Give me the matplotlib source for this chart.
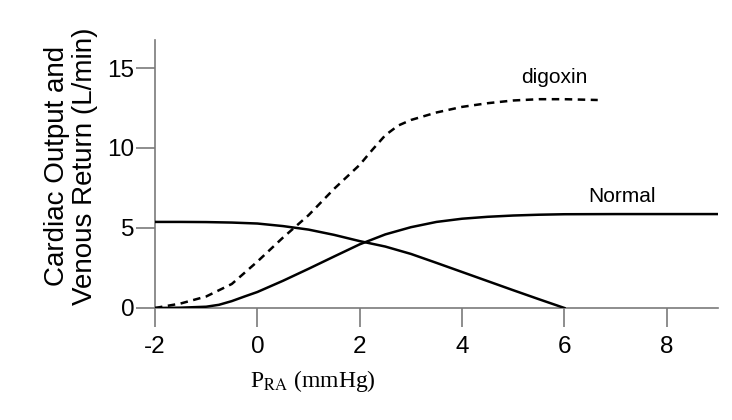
import matplotlib
matplotlib.use('Agg')
import matplotlib.pyplot as plt

plt.rcParams['font.family'] = ['Liberation Sans', 'DejaVu Sans']
plt.rcParams['mathtext.fontset'] = 'stix'
plt.rcParams['axes.unicode_minus'] = False

# normal cardiac function curve
co_x = [-2, -1.5, -1, -0.75, -0.5, -0.25, 0, 0.5, 1, 1.5, 2, 2.5, 3, 3.5, 4, 4.5, 5, 5.5, 6, 7, 8, 9]
co_y = [0.0, 0.02, 0.08, 0.2, 0.43, 0.72, 1.0, 1.7, 2.45, 3.22, 3.98, 4.6, 5.05, 5.38, 5.58, 5.7, 5.78, 5.83, 5.86, 5.87, 5.87, 5.87]

# venous return curve
vr_x = [-2, -1.5, -1, -0.5, 0, 0.5, 1, 1.5, 2, 2.5, 3, 3.5, 4, 4.5, 5, 5.5, 6]
vr_y = [5.38, 5.38, 5.37, 5.34, 5.28, 5.12, 4.9, 4.57, 4.18, 3.84, 3.38, 2.82, 2.25, 1.68, 1.11, 0.55, 0.0]

# cardiac function with digoxin
dig_x = [-2, -1.5, -1, -0.5, 0, 0.5, 1, 1.5, 2, 2.25, 2.5, 2.75, 3, 3.5, 4, 4.5, 5, 5.5, 6, 6.65]
dig_y = [0.0, 0.28, 0.72, 1.5, 2.9, 4.4, 5.8, 7.45, 8.95, 9.9, 10.8, 11.4, 11.75, 12.22, 12.57, 12.8, 12.97, 13.05, 13.05, 13.0]

fig = plt.figure(figsize=(7.32, 4.2), dpi=100)
ax = fig.add_axes([155 / 732, 112 / 420, 563 / 732, 268 / 420])

ax.plot(co_x, co_y, color='black', lw=1.8)
ax.plot(vr_x, vr_y, color='black', lw=1.8)
ax.plot(dig_x, dig_y, color='black', lw=1.8, dashes=(3, 2.2))

ax.text(5.8, 14.4, 'digoxin', fontsize=15, ha='center', va='center')
ax.text(7.12, 6.94, 'Normal', fontsize=15, ha='center', va='center')

ax.set_xlim(-2, 9)
ax.set_ylim(0, 16.75)
ax.set_xticks([-2, 0, 2, 4, 6, 8])
ax.set_yticks([0, 5, 10, 15])

for side in ['top', 'right']:
    ax.spines[side].set_visible(False)
for side in ['left', 'bottom']:
    ax.spines[side].set_color('#7a7a7a')
    ax.spines[side].set_linewidth(1.2)
    ax.spines[side].set_zorder(0)

ax.tick_params(axis='both', length=14, width=1.2, color='#7a7a7a', labelsize=17.5)
ax.tick_params(axis='y', pad=1)
ax.tick_params(axis='x', pad=6)

ax.set_ylabel('Cardiac Output and\nVenous Return (L/min)', fontsize=20, linespacing=1.1)
ax.yaxis.set_label_coords((98 - 155) / 563, (308 - 166) / 268)
ax.set_xlabel(r'P$_{\mathrm{RA}}$ (mmHg)', fontsize=17, family='Liberation Serif')
ax.xaxis.set_label_coords((313 - 155) / 563, (308 - 368) / 268)

fig.savefig('out.png', dpi=100)
